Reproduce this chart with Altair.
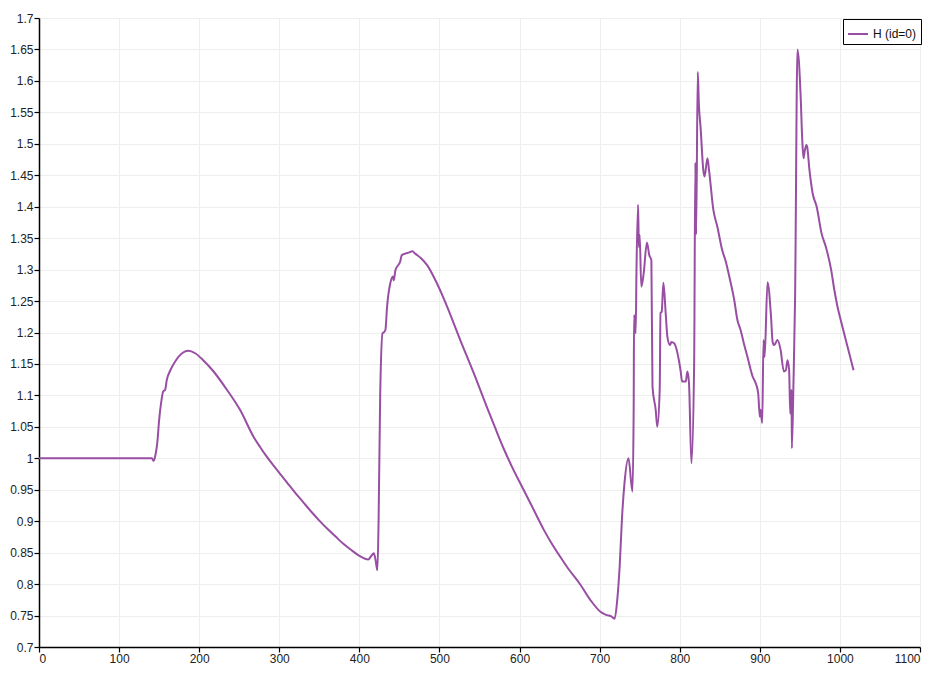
import altair as alt
import pandas as pd

series_name = "H (id=0)"

xs = [0, 139, 141, 143, 145, 148, 150, 153, 155, 157.5, 159.6, 164, 170, 176, 186.6, 195, 205, 218, 234.6, 251, 268, 276,
      283, 290, 300, 310, 320, 330, 340, 350, 360, 370, 380, 389, 400, 411, 415, 418, 420, 422.5, 424, 426, 429, 430.4,
      432.5, 434.6, 438.75, 442, 442.9, 445, 451, 453, 461.6, 466, 470, 477, 484.6, 495, 505.4, 526, 547, 559.6, 570, 580,
      590, 605, 615, 622, 630, 639, 651, 660, 676, 690, 701, 708, 714,
      718.75, 722, 725, 728, 731, 736, 741, 742.5, 743, 745, 746, 748, 749, 750, 752, 755, 759, 762, 764.6, 766, 770, 772,
      775, 776, 777.5, 779.6, 782.5, 784.6, 787.9, 789.6, 793, 801, 803, 807.5, 809.6, 811.6, 814.6, 818, 819.5, 820.5,
      822.5, 824, 826, 829.6, 831, 834.6, 836.6, 842, 847, 853, 857.5, 862.9, 868, 872, 876, 880, 884.6, 891, 895, 898,
      900, 901, 903, 904.6, 906, 909.6, 914, 916, 918, 922, 926, 930, 932.5, 934.6, 936.6, 938, 939.6, 940, 942, 944,
      947, 951, 953, 954.6, 955, 958, 959, 962, 966, 971, 977, 982.5, 989, 993, 997, 1001, 1009.6, 1017]

ys = [1.0, 1.0, 1.0, 0.996, 1.003, 1.029, 1.061, 1.093, 1.106, 1.109, 1.125, 1.14, 1.154, 1.164, 1.171, 1.167, 1.156,
      1.138, 1.109, 1.077, 1.034, 1.018,
      1.005, 0.993, 0.977, 0.961, 0.945, 0.93, 0.915, 0.901, 0.888, 0.876, 0.864, 0.855, 0.845, 0.839, 0.845, 0.849,
      0.84, 0.822, 0.9, 1.1, 1.199, 1.2,
      1.204, 1.241, 1.279, 1.289, 1.283, 1.299, 1.313, 1.323, 1.327, 1.329, 1.325, 1.318, 1.307, 1.283, 1.254, 1.188,
      1.122, 1.08, 1.047, 1.016,
      0.988, 0.95, 0.925, 0.907, 0.887, 0.867, 0.843, 0.826, 0.799, 0.772, 0.756, 0.751, 0.749,
      0.745, 0.775, 0.828, 0.907,
      0.96, 1.0, 0.947, 1.08, 1.228, 1.199, 1.299, 1.403, 1.336, 1.355, 1.273, 1.294, 1.343, 1.323, 1.315, 1.114, 1.077,
      1.05, 1.109, 1.231, 1.233, 1.279, 1.23, 1.193, 1.18, 1.185, 1.183, 1.14, 1.122, 1.122, 1.138, 1.119, 0.992, 1.151,
      1.47, 1.356, 1.614, 1.56, 1.527, 1.456, 1.448, 1.477, 1.458, 1.395, 1.368, 1.331, 1.313, 1.283, 1.252, 1.22, 1.204,
      1.183, 1.161, 1.13, 1.119, 1.103, 1.066, 1.077, 1.056, 1.188, 1.161, 1.28, 1.225, 1.185, 1.18, 1.188, 1.172, 1.138,
      1.14, 1.156, 1.14, 1.071, 1.109, 1.016, 1.119, 1.252, 1.65, 1.575, 1.506, 1.477, 1.48, 1.498, 1.496, 1.458, 1.421,
      1.4, 1.358, 1.336, 1.3, 1.268, 1.241, 1.22, 1.177, 1.14]

x_ticks = list(range(0, 1101, 100))
y_ticks = [round(0.7 + 0.05 * i, 2) for i in range(21)]

df = pd.DataFrame({"x": xs, "y": ys, "series": [series_name] * len(xs), "i": list(range(len(xs)))})

FONT = "Liberation Sans"

chart = alt.Chart(df).mark_line(strokeWidth=2, clip=True, interpolate="monotone").encode(
    x=alt.X("x:Q", scale=alt.Scale(domain=[0, 1100], nice=False, zero=False),
            axis=alt.Axis(values=x_ticks, format="d", title=None)),
    y=alt.Y("y:Q", scale=alt.Scale(domain=[0.7, 1.7], nice=False, zero=False),
            axis=alt.Axis(values=y_ticks, format=".2~f", title=None)),
    color=alt.Color("series:N", scale=alt.Scale(range=["#984ea3"]),
                    legend=alt.Legend(title=None, orient="none", legendX=804, legendY=1,
                                      strokeColor="black", fillColor="white", padding=4,
                                      symbolType="stroke", symbolSize=400, symbolStrokeWidth=2,
                                      labelFontSize=12, labelFont=FONT, labelColor="#111",
                                      cornerRadius=0)),
    order="i:Q",
).properties(
    width=881, height=629,
    autosize=alt.AutoSizeParams(type="none"),
    padding={"left": 31, "top": 10, "right": 10, "bottom": 20},
).configure_view(
    strokeWidth=0
).configure_axis(
    domainColor="black", domainWidth=1.5, tickColor="black", tickSize=5, tickWidth=1.2,
    gridColor="#eeeeee", gridWidth=1, labelFont=FONT, labelFontSize=12, labelColor="#222",
    labelPadding=1
)

chart.save("out.html", embed_options={"renderer": "svg", "actions": False})
